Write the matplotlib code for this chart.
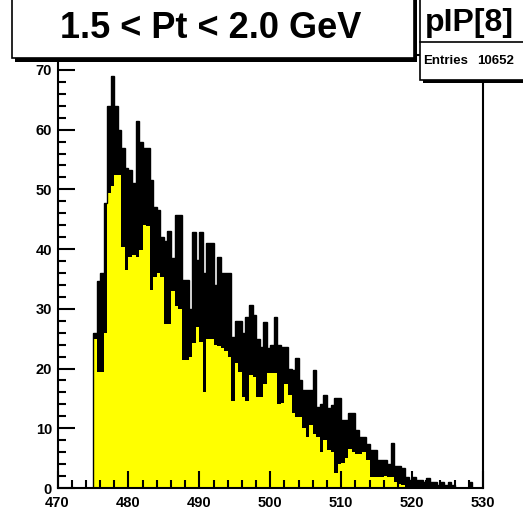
import numpy as np
import matplotlib
matplotlib.use("Agg")
import matplotlib.pyplot as plt
from matplotlib.patches import Rectangle
from matplotlib.ticker import MultipleLocator

plt.rcParams['font.family'] = ['Liberation Sans', 'DejaVu Sans']

# histogram pIP[8] in 0.5 GeV slices starting at 475 GeV
# upper = top of the black spikes, lower = top of the yellow fill
first_edge = 475.0
slice_width = 0.5
upper = [26, 34.6, 36, 47.7, 64, 69, 64, 60, 57, 53.5,
         53.2, 51, 61.4, 58, 57, 57, 51.5, 47, 46.5, 42,
         41.4, 43, 38.5, 45.7, 45.7, 34.8, 34.8, 30, 42.9, 38.2,
         42.9, 36, 41, 41, 34, 38.7, 36, 36, 36, 25.3,
         27.9, 28, 26, 28.7, 30.6, 29, 25, 23.6, 27.8, 23.4,
         24, 28.7, 24, 23.6, 23.6, 20, 19.8, 21.7, 18, 16.4,
         16.4, 16.4, 19.8, 13.6, 14, 15.6, 13.4, 13.9, 15, 15,
         11.4, 11.4, 12.5, 12.5, 9.7, 8.6, 8.6, 7.3, 6.4, 6.4,
         4.7, 4.7, 4.7, 4, 7.5, 3.6, 3.6, 3.3, 1.9, 1.3,
         1.9, 1.3, 1.3, 1, 1.6, 1, 1, 0.5, 1, 0.5,
         1, 0.5, 0, 0, 0, 0, 1, 0]
lower = [25, 19.5, 19.5, 26, 49.4, 50.5, 52.4, 52.4, 40.4, 36.5,
         38.7, 39, 38.7, 39.8, 44, 43.8, 33.2, 35.4, 36, 35.4,
         27.5, 27.5, 33, 30.4, 30, 21.4, 21.4, 22, 24.3, 27,
         24.5, 16.1, 25, 25, 24, 23.7, 23.5, 23, 22, 14.5,
         21, 19.5, 15.3, 14.5, 19, 18.6, 15.3, 15.3, 17.4, 19.2,
         19.2, 19.2, 14, 14.2, 17.4, 15.6, 12.5, 11.9, 11.9, 10,
         8.6, 10.5, 9, 8.6, 6, 8, 6.4, 6, 2.5, 4,
         4.2, 5, 6.5, 6, 5.7, 5.7, 6, 4.7, 1.9, 1.9,
         1.9, 1.9, 2, 1.9, 1.9, 1, 0.7, 0.5, 0, 0,
         0, 0, 0, 0, 0, 0, 0, 0, 0, 0,
         0, 0, 0, 0, 0, 0, 0, 0]
title = "1.5 < Pt < 2.0 GeV"
hist_name = "pIP[8]"
entries = 10652

W, H = 523, 518
fig = plt.figure(figsize=(W / 100, H / 100), dpi=100)
fig.patch.set_facecolor('white')


def fx(x):
    return x / W


def fy(y):
    return 1 - y / H


ax = fig.add_axes([fx(57.5), fy(488), fx(483) - fx(57.5), fy(55) - fy(488)])

edges = first_edge + slice_width * np.arange(len(upper) + 1)
ax.stairs(lower, edges, baseline=0, fill=True, color='#ffff00')
ax.stairs(upper, edges, baseline=lower, fill=True, color='black')
ax.stairs(upper, edges, baseline=0, color='black', lw=1)

ax.set_xlim(470, 530)
ax.set_ylim(0, 72.5)
ax.xaxis.set_major_locator(MultipleLocator(10))
ax.xaxis.set_minor_locator(MultipleLocator(2))
ax.yaxis.set_major_locator(MultipleLocator(10))
ax.yaxis.set_minor_locator(MultipleLocator(2))
ax.tick_params(which='both', direction='in', width=1.5, top=False, right=False)
ax.tick_params(which='major', length=12)
ax.tick_params(which='minor', length=6)
ax.tick_params(axis='x', pad=6)
ax.tick_params(axis='y', pad=4)
for lab in ax.get_xticklabels() + ax.get_yticklabels():
    lab.set_fontsize(10.5)
    lab.set_fontweight('bold')
for s in ax.spines.values():
    s.set_linewidth(1.5)

# title pave with shadow
fig.add_artist(Rectangle((fx(15), fy(62)), fx(417) - fx(15), fy(-10) - fy(62),
                         transform=fig.transFigure, facecolor='black', edgecolor='none'))
fig.add_artist(Rectangle((fx(12), fy(58)), fx(414) - fx(12), fy(-10) - fy(58),
                         transform=fig.transFigure, facecolor='white', edgecolor='black', lw=1.2))
fig.text(fx(211), fy(28), title, ha='center', va='center', fontsize=26, fontweight='bold')

# stats box with shadow
fig.add_artist(Rectangle((fx(423), fy(83)), fx(540) - fx(423), fy(-10) - fy(83),
                         transform=fig.transFigure, facecolor='black', edgecolor='none'))
fig.add_artist(Rectangle((fx(420), fy(80)), fx(540) - fx(420), fy(-10) - fy(80),
                         transform=fig.transFigure, facecolor='white', edgecolor='black', lw=1.2))
fig.add_artist(plt.Line2D([fx(420), fx(540)], [fy(42), fy(42)],
                          transform=fig.transFigure, color='black', lw=1.2))
fig.text(fx(469), fy(23), hist_name, ha='center', va='center', fontsize=23, fontweight='bold')
fig.text(fx(423), fy(61), "Entries", ha='left', va='center', fontsize=9.5, fontweight='bold')
fig.text(fx(514), fy(61), str(entries), ha='right', va='center', fontsize=9.5, fontweight='bold')

fig.savefig("out.png", dpi=100)
